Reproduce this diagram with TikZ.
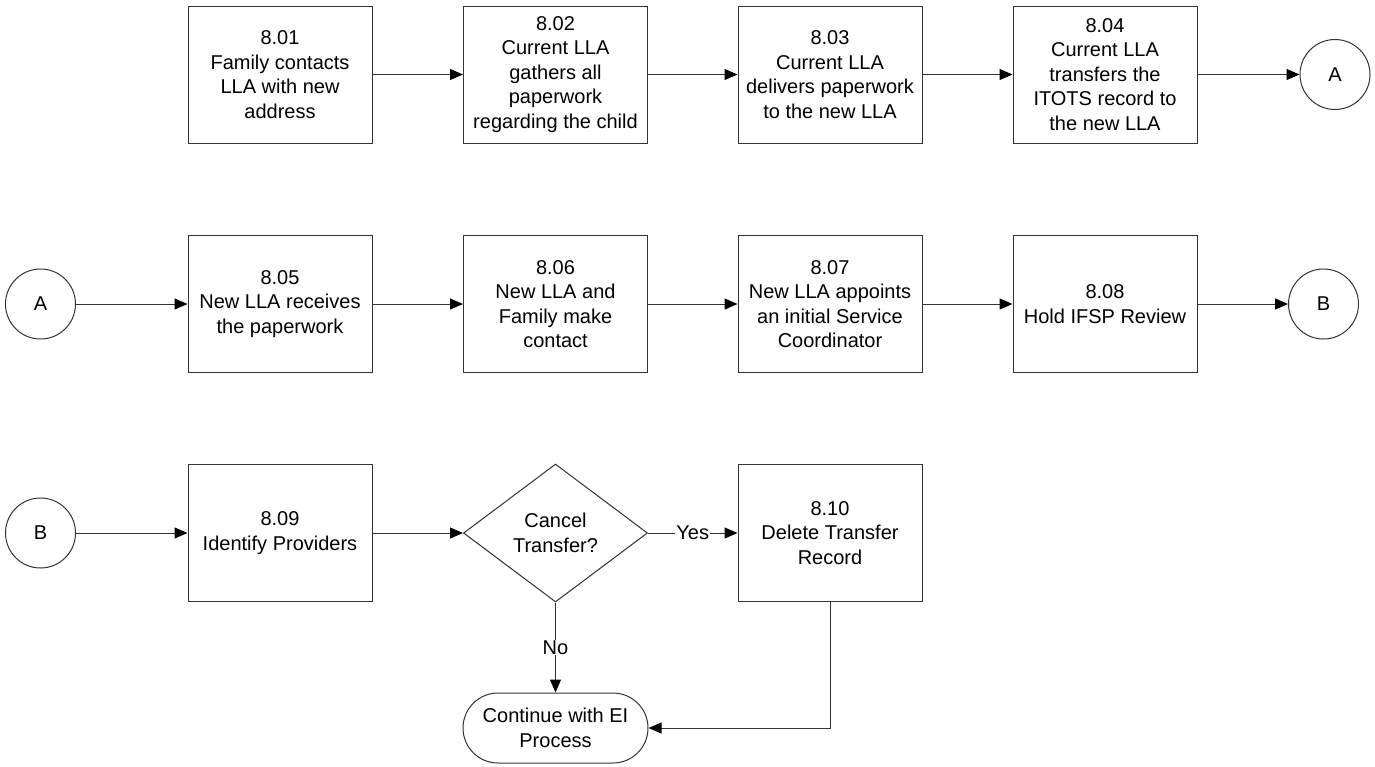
\documentclass[tikz,border=0pt]{standalone}
\usepackage{fontspec}
\setmainfont{Liberation Sans}
\usetikzlibrary{arrows.meta,shapes.geometric}
\begin{document}
\begin{tikzpicture}[x=1pt,y=-1pt,
  txt/.style={font=\fontsize{20}{24.5}\selectfont},
  box/.style={txt, draw=black!80, line width=1pt, minimum width=184pt, minimum height=137pt, align=center, inner sep=2pt},
  conn/.style={txt, draw=black!80, line width=1pt, circle, minimum size=70pt, inner sep=0pt},
  dec/.style={txt, draw=black!80, line width=1pt, diamond, aspect=1.33, minimum width=184pt, minimum height=138pt, align=center, inner sep=0pt},
  term/.style={txt, draw=black!80, line width=1pt, rectangle, rounded corners=35pt, minimum width=185pt, minimum height=70pt, align=center},
  arr/.style={draw=black!80, line width=1pt, -{Triangle[length=13pt,width=11pt,color=black]}},
  lbl/.style={txt, fill=white, inner sep=1pt}]
\useasboundingbox (0,0) rectangle (1375,766);
% row 1
\node[box] (b1) at (280,74.5) {8.01\\Family contacts\\LLA with new\\address};
\node[box] (b2) at (555.5,74.5) {8.02\\Current LLA\\gathers all\\paperwork\\regarding the child};
\node[box] (b3) at (830,74.5) {8.03\\Current LLA\\delivers paperwork\\to the new LLA};
\node[box] (b4) at (1105,74.5) {8.04\\Current LLA\\transfers the\\ITOTS record to\\the new LLA};
\node[conn] (a1) at (1335,74.5) {A};
% row 2
\node[conn] (a2) at (40.5,304) {A};
\node[box] (b5) at (280,304) {8.05\\New LLA receives\\the paperwork};
\node[box] (b6) at (555.5,304) {8.06\\New LLA and\\Family make\\contact};
\node[box] (b7) at (830,304) {8.07\\New LLA appoints\\an initial Service\\Coordinator};
\node[box] (b8) at (1105,304) {8.08\\Hold IFSP Review};
\node[conn] (bb1) at (1323.5,304) {B};
% row 3
\node[conn] (bb2) at (40.5,533) {B};
\node[box] (b9) at (280,533) {8.09\\Identify Providers};
\node[dec] (d) at (555.5,533) {Cancel\\Transfer?};
\node[box] (b10) at (830,533) {8.10\\Delete Transfer\\Record};
\node[term] (t) at (555.5,728) {Continue with EI\\Process};
% connectors
\draw[arr] (b1) -- (b2);
\draw[arr] (b2) -- (b3);
\draw[arr] (b3) -- (b4);
\draw[arr] (b4) -- (a1);
\draw[arr] (a2) -- (b5);
\draw[arr] (b5) -- (b6);
\draw[arr] (b6) -- (b7);
\draw[arr] (b7) -- (b8);
\draw[arr] (b8) -- (bb1);
\draw[arr] (bb2) -- (b9);
\draw[arr] (b9) -- (d);
\draw[arr] (d) -- node[lbl] {Yes} (b10);
\draw[arr] (d) -- node[lbl] {No} (t);
\draw[arr] (b10.south) |- (t.east);
\end{tikzpicture}
\end{document}
